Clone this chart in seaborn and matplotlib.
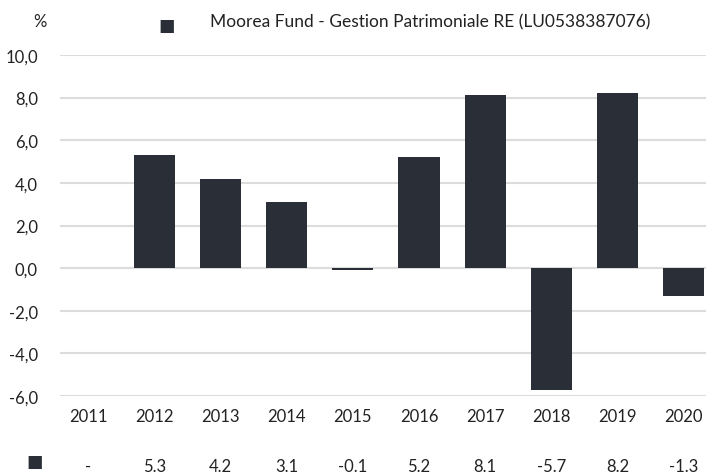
import numpy as np
import pandas as pd
import matplotlib
matplotlib.use("Agg")
import matplotlib.pyplot as plt
import seaborn as sns

# datos
anios = ['2011', '2012', '2013', '2014', '2015', '2016', '2017', '2018', '2019', '2020']
rentab = [np.nan, 5.3, 4.2, 3.1, -0.1, 5.2, 8.1, -5.7, 8.2, -1.3]
serie = 'Moorea Fund - Gestion Patrimoniale RE (LU0538387076)'
yticks = [-6, -4, -2, 0, 2, 4, 6, 8, 10]

color_barra = '#2a2e37'
color_texto = '#222222'

sns.set_style('white')
plt.rcParams['font.family'] = ['Lato', 'DejaVu Sans']

df = pd.DataFrame({'anio': anios, 'valor': rentab})

fig = plt.figure(figsize=(7.06, 4.77), dpi=100)
ax = fig.add_axes([60 / 706, 80 / 477, 646 / 706, 341 / 477])

sns.barplot(data=df, x='anio', y='valor', order=anios, color=color_barra,
            saturation=1, width=0.62, linewidth=0, ax=ax, zorder=3)

ax.set_ylim(-6, 10)
ax.set_xlim(-0.423, 9.335)
ax.set_yticks(yticks)
ax.set_yticklabels([f'{v:.1f}'.replace('.', ',') for v in yticks])
ax.yaxis.grid(True, color='#dcdcdc', linewidth=1.5, zorder=0)
ax.set_axisbelow(True)
for s in ax.spines.values():
    s.set_visible(False)
ax.set_xlabel('')
ax.set_ylabel('')
ax.tick_params(axis='y', length=0, pad=16, labelsize=12, labelcolor=color_texto)
ax.tick_params(axis='x', length=0, pad=9, labelsize=12, labelcolor=color_texto)

# simbolo %
fig.text(40 / 706, 1 - 22 / 477, '%', ha='center', va='center', fontsize=12, color=color_texto)

# leyenda
fig.text(167 / 706, 1 - 26 / 477, '\u25a0', ha='center', va='center', fontsize=12.5,
         color=color_barra)
fig.text(210 / 706, 1 - 22 / 477, serie, ha='left', va='center', fontsize=12.5,
         color=color_texto)

# fila de valores debajo
fila_y = -0.205
for i, v in enumerate(rentab):
    txt = '-' if np.isnan(v) else f'{v:.1f}'
    ax.text(i, fila_y, txt, transform=ax.get_xaxis_transform(), ha='center', va='center',
            fontsize=12, color=color_texto, clip_on=False)
fig.text(35 / 706, 1 - 462 / 477, '\u25a0', ha='center', va='center', fontsize=12.5,
         color=color_barra)

fig.savefig('out.png', dpi=100)
